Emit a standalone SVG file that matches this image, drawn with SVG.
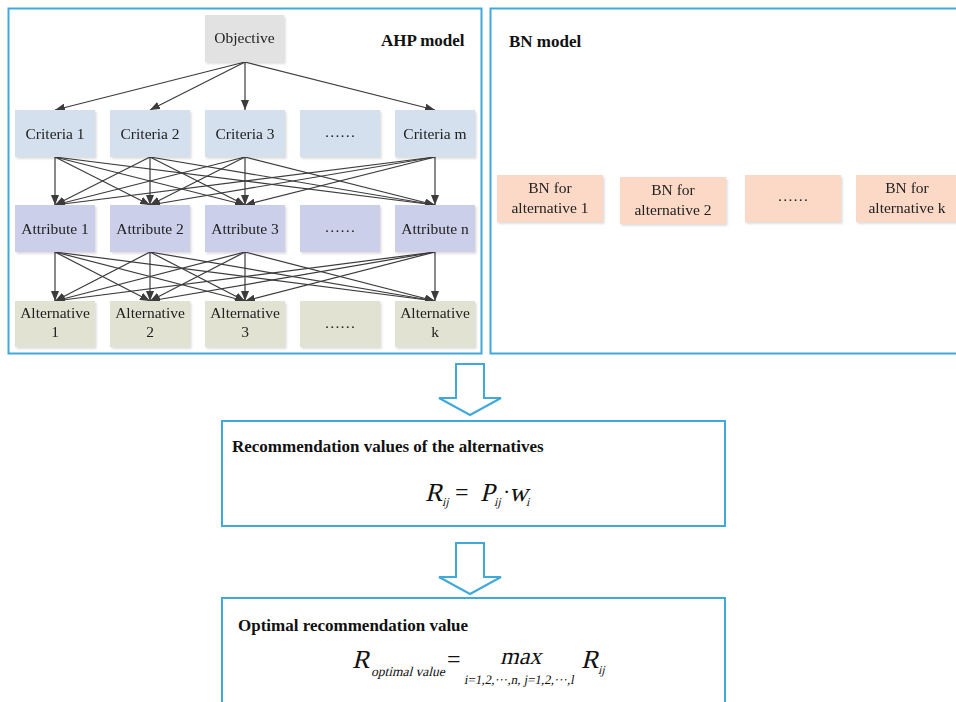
<svg xmlns="http://www.w3.org/2000/svg" width="956" height="702" viewBox="0 0 956 702">
  <defs>
    <style>
      .frame { fill: #ffffff; stroke: #3fa9dc; stroke-width: 2; }
      .lbl { font-family: "Liberation Serif", "Times New Roman", serif; font-size: 15.5px; fill: #222222; text-anchor: middle; }
      .title { font-family: "Liberation Serif", "Times New Roman", serif; font-weight: bold; font-size: 17px; fill: #111111; }
      .math { font-family: "Liberation Serif", "Times New Roman", serif; font-style: normal; fill: #111111; }
      .obj { fill: #e2e2e2; }
      .crit { fill: #d4e0ee; }
      .attr { fill: #cbcfea; }
      .alt { fill: #e2e2d3; }
      .bn { fill: #fbd9c6; }
      .edge { stroke: #3c3c3c; stroke-width: 1.2; fill: none; marker-end: url(#ah); }
      .block { fill: #ffffff; stroke: #3fa9dc; stroke-width: 2; stroke-linejoin: miter; }
    </style>
    <marker id="ah" markerUnits="userSpaceOnUse" markerWidth="10" markerHeight="8" refX="10" refY="4" orient="auto">
      <path d="M0,0 L10,4 L0,8 z" fill="#3c3c3c"/>
    </marker>
    <filter id="sh" x="-10%" y="-10%" width="125%" height="130%">
      <feDropShadow dx="1.5" dy="1.8" stdDeviation="1.2" flood-color="#000000" flood-opacity="0.14"/>
    </filter>
  </defs>

  <!-- outer panels -->
  <rect id="ahp-panel" class="frame" x="8.5" y="8.5" width="473" height="345"/>
  <rect id="bn-panel" class="frame" x="490.5" y="8.5" width="475" height="345"/>
  <text class="title" x="381" y="46" font-size="18">AHP model</text>
  <text class="title" x="509" y="47" font-size="18">BN model</text>

  <!-- hierarchy connectors -->
  <g id="connectors">
    <line class="edge" x1="245" y1="62" x2="55" y2="110"/>
    <line class="edge" x1="245" y1="62" x2="150" y2="110"/>
    <line class="edge" x1="245" y1="62" x2="245" y2="110"/>
    <line class="edge" x1="245" y1="62" x2="435" y2="110"/>

    <!-- criteria to attributes -->
    <line class="edge" x1="55" y1="157" x2="55" y2="205"/>
    <line class="edge" x1="55" y1="157" x2="150" y2="205"/>
    <line class="edge" x1="55" y1="157" x2="245" y2="205"/>
    <line class="edge" x1="55" y1="157" x2="435" y2="205"/>
    <line class="edge" x1="150" y1="157" x2="55" y2="205"/>
    <line class="edge" x1="150" y1="157" x2="150" y2="205"/>
    <line class="edge" x1="150" y1="157" x2="245" y2="205"/>
    <line class="edge" x1="150" y1="157" x2="435" y2="205"/>
    <line class="edge" x1="245" y1="157" x2="55" y2="205"/>
    <line class="edge" x1="245" y1="157" x2="150" y2="205"/>
    <line class="edge" x1="245" y1="157" x2="245" y2="205"/>
    <line class="edge" x1="245" y1="157" x2="435" y2="205"/>
    <line class="edge" x1="435" y1="157" x2="55" y2="205"/>
    <line class="edge" x1="435" y1="157" x2="150" y2="205"/>
    <line class="edge" x1="435" y1="157" x2="245" y2="205"/>
    <line class="edge" x1="435" y1="157" x2="435" y2="205"/>

    <!-- attributes to alternatives -->
    <line class="edge" x1="55" y1="252" x2="55" y2="301"/>
    <line class="edge" x1="55" y1="252" x2="150" y2="301"/>
    <line class="edge" x1="55" y1="252" x2="245" y2="301"/>
    <line class="edge" x1="55" y1="252" x2="435" y2="301"/>
    <line class="edge" x1="150" y1="252" x2="55" y2="301"/>
    <line class="edge" x1="150" y1="252" x2="150" y2="301"/>
    <line class="edge" x1="150" y1="252" x2="245" y2="301"/>
    <line class="edge" x1="150" y1="252" x2="435" y2="301"/>
    <line class="edge" x1="245" y1="252" x2="55" y2="301"/>
    <line class="edge" x1="245" y1="252" x2="150" y2="301"/>
    <line class="edge" x1="245" y1="252" x2="245" y2="301"/>
    <line class="edge" x1="245" y1="252" x2="435" y2="301"/>
    <line class="edge" x1="435" y1="252" x2="55" y2="301"/>
    <line class="edge" x1="435" y1="252" x2="150" y2="301"/>
    <line class="edge" x1="435" y1="252" x2="245" y2="301"/>
    <line class="edge" x1="435" y1="252" x2="435" y2="301"/>
  </g>

  <!-- objective -->
  <g id="objective" filter="url(#sh)">
    <rect class="obj" x="205" y="15" width="79" height="47"/>
    <text class="lbl" x="244.5" y="43">Objective</text>
  </g>

  <!-- criteria row -->
  <g id="criteria-1" filter="url(#sh)"><rect class="crit" x="15" y="110" width="80" height="47"/><text class="lbl" x="55" y="139">Criteria 1</text></g>
  <g id="criteria-2" filter="url(#sh)"><rect class="crit" x="110" y="110" width="80" height="47"/><text class="lbl" x="150" y="139">Criteria 2</text></g>
  <g id="criteria-3" filter="url(#sh)"><rect class="crit" x="205" y="110" width="80" height="47"/><text class="lbl" x="245" y="139">Criteria 3</text></g>
  <g id="criteria-more" filter="url(#sh)"><rect class="crit" x="300" y="110" width="80" height="47"/><text class="lbl" x="340" y="137">……</text></g>
  <g id="criteria-m" filter="url(#sh)"><rect class="crit" x="395" y="110" width="80" height="47"/><text class="lbl" x="435" y="139">Criteria m</text></g>

  <!-- attribute row -->
  <g id="attribute-1" filter="url(#sh)"><rect class="attr" x="15" y="205" width="80" height="47"/><text class="lbl" x="55" y="234">Attribute 1</text></g>
  <g id="attribute-2" filter="url(#sh)"><rect class="attr" x="110" y="205" width="80" height="47"/><text class="lbl" x="150" y="234">Attribute 2</text></g>
  <g id="attribute-3" filter="url(#sh)"><rect class="attr" x="205" y="205" width="80" height="47"/><text class="lbl" x="245" y="234">Attribute 3</text></g>
  <g id="attribute-more" filter="url(#sh)"><rect class="attr" x="300" y="205" width="80" height="47"/><text class="lbl" x="340" y="232">……</text></g>
  <g id="attribute-n" filter="url(#sh)"><rect class="attr" x="395" y="205" width="80" height="47"/><text class="lbl" x="435" y="234">Attribute n</text></g>

  <!-- alternative row -->
  <g id="alternative-1" filter="url(#sh)"><rect class="alt" x="15" y="301" width="80" height="46"/><text class="lbl" x="55" y="318">Alternative</text><text class="lbl" x="55" y="337">1</text></g>
  <g id="alternative-2" filter="url(#sh)"><rect class="alt" x="110" y="301" width="80" height="46"/><text class="lbl" x="150" y="318">Alternative</text><text class="lbl" x="150" y="337">2</text></g>
  <g id="alternative-3" filter="url(#sh)"><rect class="alt" x="205" y="301" width="80" height="46"/><text class="lbl" x="245" y="318">Alternative</text><text class="lbl" x="245" y="337">3</text></g>
  <g id="alternative-more" filter="url(#sh)"><rect class="alt" x="300" y="301" width="80" height="46"/><text class="lbl" x="340" y="328">……</text></g>
  <g id="alternative-k" filter="url(#sh)"><rect class="alt" x="395" y="301" width="80" height="46"/><text class="lbl" x="435" y="318">Alternative</text><text class="lbl" x="435" y="337">k</text></g>

  <!-- BN row -->
  <g id="bn-1" filter="url(#sh)"><rect class="bn" x="497" y="175" width="106" height="47"/><text class="lbl" x="550" y="193">BN for</text><text class="lbl" x="550" y="213">alternative 1</text></g>
  <g id="bn-2" filter="url(#sh)"><rect class="bn" x="620" y="177" width="106" height="47"/><text class="lbl" x="673" y="195">BN for</text><text class="lbl" x="673" y="215">alternative 2</text></g>
  <g id="bn-more" filter="url(#sh)"><rect class="bn" x="745" y="175" width="96" height="47"/><text class="lbl" x="793" y="201">……</text></g>
  <g id="bn-k" filter="url(#sh)"><rect class="bn" x="856" y="175" width="104" height="47"/><text class="lbl" x="907" y="193">BN for</text><text class="lbl" x="907" y="213">alternative k</text></g>

  <!-- flow arrows -->
  <g id="flow-arrows">
    <path class="block" d="M456,364 H484 V398 H501 L470,415 L439,398 H456 Z"/>
    <path class="block" d="M456,543 H484 V577 H501 L470,594 L439,577 H456 Z"/>
  </g>

  <!-- recommendation values: R_ij = P_ij · w_i (slanted glyphs via skew) -->
  <g id="recommendation">
    <rect class="frame" x="222" y="421" width="503" height="105"/>
    <text class="title" x="232" y="452">Recommendation values of the alternatives</text>
    <text class="math" transform="translate(425 501) skewX(-14)" font-size="26">R</text>
    <text class="math" transform="translate(442 506) skewX(-14)" font-size="12">ij</text>
    <text class="math" x="455" y="500" font-size="24">=</text>
    <text class="math" transform="translate(480 501) skewX(-14)" font-size="26">P</text>
    <text class="math" transform="translate(494 506) skewX(-14)" font-size="12">ij</text>
    <text class="math" x="503" y="499" font-size="22">·</text>
    <text class="math" transform="translate(509 501) skewX(-14)" font-size="26">w</text>
    <text class="math" transform="translate(526 506) skewX(-14)" font-size="12">i</text>
  </g>

  <!-- optimal value: R_opt = max R_ij -->
  <g id="optimal">
    <rect class="frame" x="222" y="598" width="503" height="110"/>
    <text class="title" x="238" y="631">Optimal recommendation value</text>
    <text class="math" transform="translate(352 668) skewX(-14)" font-size="26">R</text>
    <text class="math" transform="translate(371 676) skewX(-14)" font-size="13.5">optimal value</text>
    <text class="math" x="447" y="667" font-size="24">=</text>
    <text class="math" transform="translate(500 664) skewX(-14)" font-size="24">max</text>
    <text class="math" transform="translate(464 684) skewX(-10)" font-size="13">i=1,2,···,n, j=1,2,···,l</text>
    <text class="math" transform="translate(581 668) skewX(-14)" font-size="26">R</text>
    <text class="math" transform="translate(598 674) skewX(-14)" font-size="12">ij</text>
  </g>
</svg>
